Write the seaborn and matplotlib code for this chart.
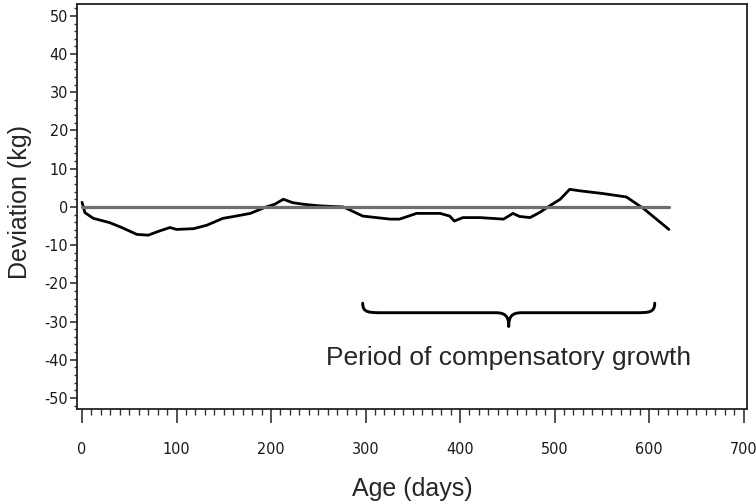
import numpy as np
import pandas as pd
import matplotlib
matplotlib.use("Agg")
import matplotlib.pyplot as plt
from matplotlib import font_manager
from matplotlib.path import Path
from matplotlib.patches import PathPatch
from matplotlib.ticker import MultipleLocator
import seaborn as sns

# -------------------- DATA --------------------
age_days = [0, 3, 12, 29, 42, 58, 70, 82, 93, 100,
            118, 132, 149, 163, 178, 195, 204, 213, 223, 234,
            250, 265, 276, 280, 297, 326, 336, 354, 379, 389,
            394, 403, 421, 446, 456, 463, 474, 484, 495, 506,
            516, 527, 551, 576, 585, 595, 621]
deviation_kg = [1.2, -1.5, -3.0, -4.1, -5.4, -7.2, -7.4, -6.3, -5.4, -5.9,
                -5.7, -4.8, -3.0, -2.4, -1.7, 0.0, 0.7, 2.0, 1.1, 0.7,
                0.3, 0.1, 0.0, -0.4, -2.4, -3.2, -3.2, -1.7, -1.7, -2.4,
                -3.7, -2.8, -2.8, -3.2, -1.7, -2.5, -2.8, -1.5, 0.3, 2.0,
                4.6, 4.2, 3.5, 2.6, 1.1, -0.6, -5.9]
ref_age = [0, 621]
ref_dev = [0, 0]

# compensatory growth period (brace)
brace_start, brace_end = 297, 606
brace_label = "Period of compensatory growth"

# -------------------- STYLE --------------------
sns.set_style("ticks")
plt.rcParams["font.family"] = ["Liberation Sans", "DejaVu Sans"]
plt.rcParams["axes.unicode_minus"] = False

installed = {f.name for f in font_manager.fontManager.ttflist}
if "Liberation Sans Narrow" in installed:
    tick_font, tick_stretch = "Liberation Sans Narrow", "normal"
else:
    tick_font, tick_stretch = "DejaVu Sans", "condensed"

df = pd.DataFrame({"age": age_days, "dev": deviation_kg})
ref = pd.DataFrame({"age": ref_age, "dev": ref_dev})

fig = plt.figure(figsize=(7.56, 5.04), dpi=100)
ax = fig.add_axes([0.1019, 0.1885, 0.886, 0.8035])

sns.lineplot(data=df, x="age", y="dev", color="black", linewidth=2.0,
             estimator=None, sort=False, ax=ax)
sns.lineplot(data=ref, x="age", y="dev", color="#6e6e6e", linewidth=2.3,
             estimator=None, sort=False, ax=ax)

ax.set_xlim(-5.3, 703.5)
ax.set_ylim(-52.9, 53.1)

ax.xaxis.set_major_locator(MultipleLocator(100))
ax.xaxis.set_minor_locator(MultipleLocator(10))
ax.yaxis.set_major_locator(MultipleLocator(10))
ax.yaxis.set_minor_locator(MultipleLocator(2))

ax.tick_params(axis="x", which="major", direction="out", length=10, width=1.2,
               color="#333333", pad=13.5)
ax.tick_params(axis="x", which="minor", direction="out", length=4, width=1.0,
               color="#333333")
ax.tick_params(axis="y", which="major", direction="out", length=5, width=1.2,
               color="#333333", pad=1.5)
ax.tick_params(axis="y", which="minor", direction="out", length=2.5, width=1.0,
               color="#333333")

for lab in ax.get_xticklabels() + ax.get_yticklabels():
    lab.set_fontfamily(tick_font)
    lab.set_fontstretch(tick_stretch)
    lab.set_fontsize(11.5)
    lab.set_color("#1a1a1a")

for side in ["top", "right", "bottom", "left"]:
    ax.spines[side].set_visible(True)
    ax.spines[side].set_color("#222222")
    ax.spines[side].set_linewidth(1.3)

ax.set_xlabel("Age (days)", fontsize=18, labelpad=15)
ax.set_ylabel("Deviation (kg)", fontsize=18)
ax.yaxis.set_label_coords(-0.067, 0.51)

# -------------------- BRACE --------------------
y_top, y_mid, y_tip = -25.2, -27.7, -31.3
mid = (brace_start + brace_end) / 2
L, R = brace_start, brace_end
verts = [
    (L, y_top),
    (L, y_mid), (L + 6, y_mid), (L + 22, y_mid),
    (mid - 14, y_mid),
    (mid - 4, y_mid), (mid, y_mid - 0.8), (mid, y_tip),
    (mid, y_mid - 0.8), (mid + 4, y_mid), (mid + 14, y_mid),
    (R - 22, y_mid),
    (R - 6, y_mid), (R, y_mid), (R, y_top),
]
codes = [Path.MOVETO,
         Path.CURVE4, Path.CURVE4, Path.CURVE4,
         Path.LINETO,
         Path.CURVE4, Path.CURVE4, Path.CURVE4,
         Path.CURVE4, Path.CURVE4, Path.CURVE4,
         Path.LINETO,
         Path.CURVE4, Path.CURVE4, Path.CURVE4]
ax.add_patch(PathPatch(Path(verts, codes), facecolor="none", edgecolor="black",
                       linewidth=2.1, capstyle="round", joinstyle="round"))

ax.text(mid, -39.5, brace_label, fontsize=19, ha="center", va="center")

fig.savefig("out.png", dpi=100)
